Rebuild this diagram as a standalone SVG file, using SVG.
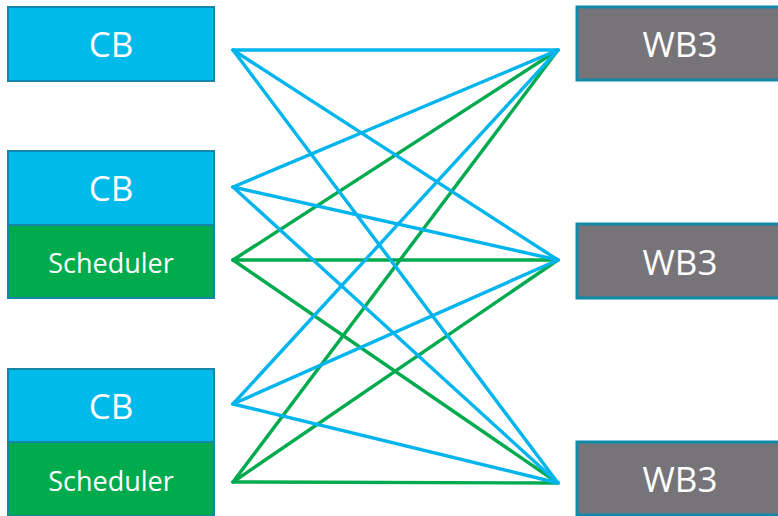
<svg xmlns="http://www.w3.org/2000/svg" width="778" height="516" viewBox="0 0 778 516">
<style>
.cb{fill:#00BAEB;stroke:#1487A8;stroke-width:2}
.sc{fill:#00AB4E;stroke:#1487A8;stroke-width:2}
.wb{fill:#767479;stroke:#0E8AAA;stroke-width:3}
.t{fill:#FFFFFF;font-family:"Open Sans","Liberation Sans",sans-serif;text-anchor:middle}
.big{font-size:35px}
.small{font-size:27px}
.bl{stroke:#00B4EE;stroke-width:3.4;fill:none;stroke-linecap:round}
.gr{stroke:#00AA4E;stroke-width:3.4;fill:none;stroke-linecap:round}
</style>
<rect width="778" height="516" fill="#FFFFFF"/>
<g id="connectors">
<line class="gr" x1="233" y1="260" x2="558" y2="50"/>
<line class="gr" x1="233" y1="260" x2="558" y2="260"/>
<line class="gr" x1="233" y1="260" x2="558" y2="483"/>
<line class="gr" x1="233" y1="482" x2="558" y2="50"/>
<line class="gr" x1="233" y1="482" x2="558" y2="260"/>
<line class="gr" x1="233" y1="482" x2="558" y2="483"/>
<line class="bl" x1="233" y1="50" x2="558" y2="50"/>
<line class="bl" x1="233" y1="50" x2="558" y2="260"/>
<line class="bl" x1="233" y1="50" x2="558" y2="483"/>
<line class="bl" x1="233" y1="187" x2="558" y2="50"/>
<line class="bl" x1="233" y1="187" x2="558" y2="260"/>
<line class="bl" x1="233" y1="187" x2="558" y2="483"/>
<line class="bl" x1="233" y1="404" x2="558" y2="50"/>
<line class="bl" x1="233" y1="404" x2="558" y2="260"/>
<line class="bl" x1="233" y1="404" x2="558" y2="483"/>
</g>
<g id="cb1">
<rect class="cb" x="8" y="7" width="206" height="74"/>
<text class="t big" x="111" y="57">CB</text>
</g>
<g id="cb2">
<rect class="cb" x="8" y="151" width="206" height="74"/>
<text class="t big" x="111" y="201">CB</text>
</g>
<g id="scheduler2">
<rect class="sc" x="8" y="225" width="206" height="73"/>
<text class="t small" x="111" y="273">Scheduler</text>
</g>
<g id="cb3">
<rect class="cb" x="8" y="369" width="206" height="73"/>
<text class="t big" x="111" y="419">CB</text>
</g>
<g id="scheduler3">
<rect class="sc" x="8" y="442" width="206" height="74"/>
<text class="t small" x="111" y="491">Scheduler</text>
</g>
<g id="wb3a">
<rect class="wb" x="577" y="7" width="215" height="73"/>
<text class="t big" x="680" y="57">WB3</text>
</g>
<g id="wb3b">
<rect class="wb" x="577" y="224" width="215" height="74"/>
<text class="t big" x="680" y="275">WB3</text>
</g>
<g id="wb3c">
<rect class="wb" x="577" y="442" width="215" height="73"/>
<text class="t big" x="680" y="492">WB3</text>
</g>
</svg>
